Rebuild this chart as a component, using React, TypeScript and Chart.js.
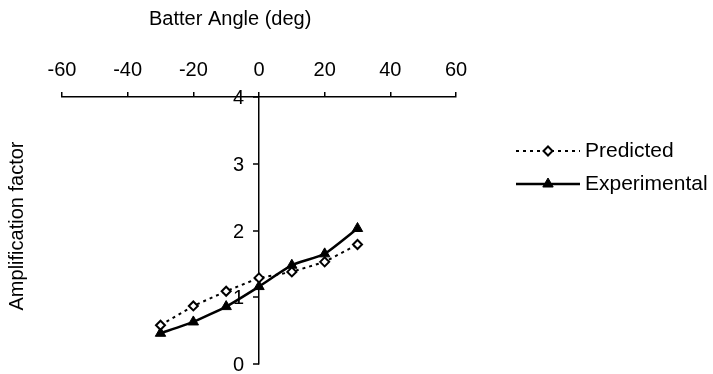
import React, { useEffect, useRef } from "react";
import { Chart, registerables } from "chart.js";

Chart.register(...registerables);

const FONT = '"Liberation Sans", Arial, sans-serif';

const X_TITLE = "Batter Angle (deg)";
const Y_TITLE = "Amplification factor";

const angles = [-30, -20, -10, 0, 10, 20, 30];
const predicted = [0.58, 0.87, 1.09, 1.29, 1.38, 1.53, 1.79];
const experimental = [0.46, 0.63, 0.86, 1.16, 1.48, 1.65, 2.03];

const seriesNames = ["Predicted", "Experimental"];

function drawMarker(ctx: CanvasRenderingContext2D, style: string, x: number, y: number, r: number) {
  ctx.beginPath();
  if (style === "rectRot") {
    ctx.moveTo(x - r, y);
    ctx.lineTo(x, y - r);
    ctx.lineTo(x + r, y);
    ctx.lineTo(x, y + r);
  } else {
    ctx.moveTo(x, y - r);
    ctx.lineTo(x + 0.866 * r, y + 0.5 * r);
    ctx.lineTo(x - 0.866 * r, y + 0.5 * r);
  }
  ctx.closePath();
}

const textPlugin = {
  id: "textPlugin",
  afterDraw(chart: any) {
    const ctx: CanvasRenderingContext2D = chart.ctx;
    ctx.save();
    ctx.fillStyle = "#000";
    ctx.font = `20px ${FONT}`;
    ctx.textAlign = "left";
    ctx.textBaseline = "alphabetic";
    ctx.fillText(X_TITLE, 149, 25);

    ctx.save();
    ctx.translate(23, 226);
    ctx.rotate(-Math.PI / 2);
    ctx.textAlign = "center";
    ctx.fillText(Y_TITLE, 0, 0);
    ctx.restore();

    // y tick labels and tick marks, positioned from the library's scales
    const ys = chart.scales.y;
    const xs = chart.scales.x;
    const axisX = Math.round(xs.getPixelForValue(0));
    ctx.textAlign = "right";
    ctx.textBaseline = "middle";
    ctx.strokeStyle = "#000";
    ctx.lineWidth = 1.5;
    ys.ticks.forEach((t: any) => {
      const py = Math.round(ys.getPixelForValue(t.value));
      ctx.beginPath();
      ctx.moveTo(axisX - 6, py);
      ctx.lineTo(axisX, py);
      ctx.stroke();
      ctx.fillText(String(t.value), axisX - 15, py + 1);
    });

    // legend
    chart.data.datasets.forEach((ds: any, i: number) => {
      const y = 151 + i * 33;
      ctx.beginPath();
      ctx.setLineDash(ds.borderDash || []);
      ctx.lineWidth = ds.borderWidth;
      ctx.strokeStyle = ds.borderColor;
      ctx.moveTo(516, y);
      ctx.lineTo(580, y);
      ctx.stroke();
      ctx.setLineDash([]);
      drawMarker(ctx, ds.pointStyle, 548, y, ds.pointRadius);
      ctx.fillStyle = ds.pointBackgroundColor;
      ctx.fill();
      ctx.lineWidth = ds.pointBorderWidth;
      ctx.strokeStyle = ds.pointBorderColor;
      ctx.stroke();
      ctx.fillStyle = "#000";
      ctx.font = `21px ${FONT}`;
      ctx.textAlign = "left";
      ctx.textBaseline = "middle";
      ctx.fillText(ds.label, 585, y);
    });
    ctx.restore();
  },
};

export default function App() {
  const ref = useRef<HTMLCanvasElement | null>(null);

  useEffect(() => {
    if (!ref.current) return;
    Chart.defaults.font.family = FONT;
    Chart.defaults.font.size = 20;
    Chart.defaults.color = "#000";

    const chart = new Chart(ref.current, {
      type: "line",
      data: {
        datasets: [
          {
            label: seriesNames[0],
            data: angles.map((a, i) => ({ x: a, y: predicted[i] })),
            borderColor: "#000",
            borderWidth: 2,
            borderDash: [3, 4],
            pointStyle: "rectRot",
            pointRadius: 4.5,
            pointBackgroundColor: "#fff",
            pointBorderColor: "#000",
            pointBorderWidth: 2,
            tension: 0,
          },
          {
            label: seriesNames[1],
            data: angles.map((a, i) => ({ x: a, y: experimental[i] })),
            borderColor: "#000",
            borderWidth: 2.5,
            pointStyle: "triangle",
            pointRadius: 6,
            pointBackgroundColor: "#000",
            pointBorderColor: "#000",
            pointBorderWidth: 1,
            tension: 0.15,
          },
        ] as any,
      },
      options: {
        animation: false,
        responsive: false,
        maintainAspectRatio: false,
        layout: { padding: { left: 62, right: 257, top: 0, bottom: 10 } },
        plugins: {
          legend: { display: false },
          tooltip: { enabled: false },
        },
        scales: {
          x: {
            type: "linear",
            position: "top",
            min: -60,
            max: 60,
            ticks: { stepSize: 20, padding: 10, font: { size: 20 }, color: "#000" },
            grid: { drawOnChartArea: false, drawTicks: true, tickLength: 5, color: "#000", lineWidth: 1.5 },
            border: { display: true, color: "#000", width: 1.5 },
            afterFit: (s: any) => {
              s.height = 97;
              s.paddingLeft = 0;
              s.paddingRight = 0;
            },
          },
          y: {
            type: "linear",
            position: { x: 0 } as any,
            min: 0,
            max: 4,
            ticks: { stepSize: 1, display: false },
            grid: { drawOnChartArea: false, drawTicks: false, color: "#000", lineWidth: 1.5 },
            border: { display: true, color: "#000", width: 1.5 },
            afterFit: (s: any) => {
              s.paddingTop = 0;
              s.paddingBottom = 0;
            },
          },
        },
      } as any,
      plugins: [textPlugin],
    });
    return () => chart.destroy();
  }, []);

  return (
    <div style={{ position: "absolute", left: 0, top: 0, width: 713, height: 374, background: "#fff" }}>
      <canvas ref={ref} width={713} height={374} />
    </div>
  );
}
